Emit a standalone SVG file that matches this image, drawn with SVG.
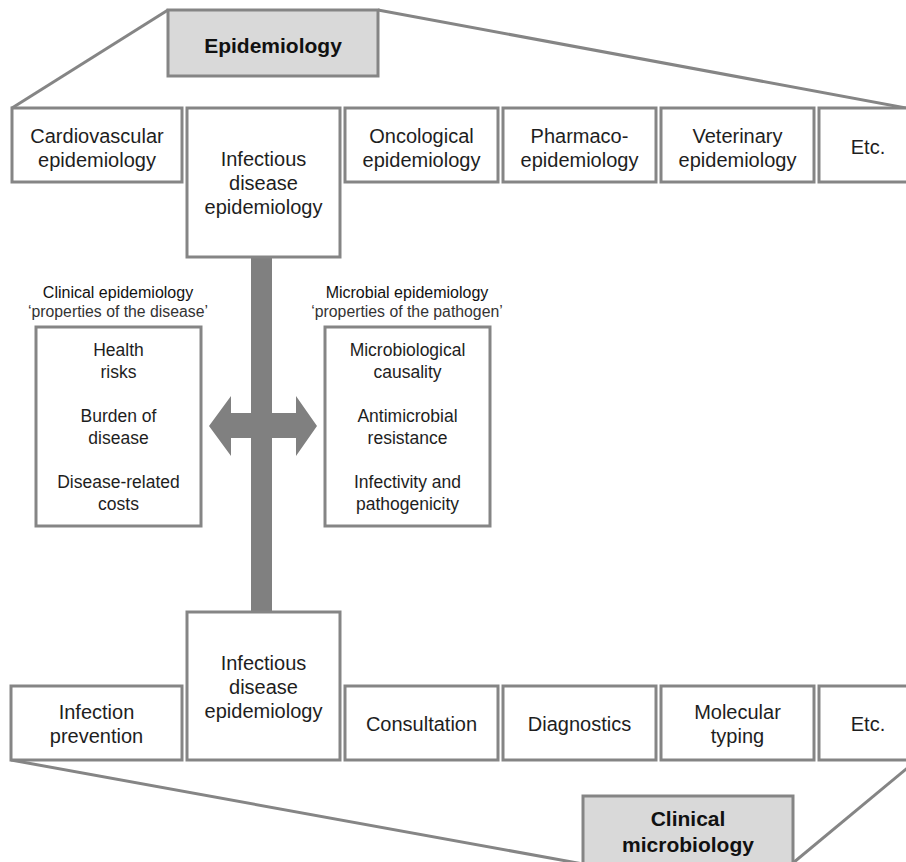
<svg xmlns="http://www.w3.org/2000/svg" width="906" height="862" viewBox="0 0 906 862">
<style>
.box{fill:#ffffff;stroke:#858585;stroke-width:3}
.title{fill:#d9d9d9;stroke:#858585;stroke-width:3}
.ln{fill:none;stroke:#858585;stroke-width:3}
text{font-family:"Liberation Sans",Arial,sans-serif;fill:#1e1e1e;text-anchor:middle}
.t20{font-size:20px}
.t17{font-size:17.5px}
.hd{font-size:16px;fill:#111}
.sub{font-size:15.8px;fill:#333}
.tb{font-size:21px;font-weight:bold;fill:#111}
</style>
<rect width="906" height="862" fill="#ffffff"/>
<g id="connectors">
<polyline class="ln" points="12,108 168,10"/>
<polyline class="ln" points="378,10 917,110"/>
<polyline class="ln" points="11,760 583,864"/>
<polyline class="ln" points="793,863 917,760"/>
<rect x="251" y="257" width="21" height="355" fill="#808080"/>
<polygon fill="#808080" points="209,426 231,396 231,413 296,413 296,396 317,426 296,456 296,438 231,438 231,456"/>
</g>
<g id="epidemiology">
<rect class="title" x="168" y="10" width="210" height="66"/>
<text class="tb" x="273" y="53">Epidemiology</text>
</g>
<g id="cardiovascular">
<rect class="box" x="12" y="108" width="170" height="74"/>
<text class="t20" x="97" y="143">Cardiovascular</text>
<text class="t20" x="97" y="167">epidemiology</text>
</g>
<g id="infectious-top">
<rect class="box" x="187" y="108" width="153" height="149"/>
<text class="t20" x="263.5" y="166">Infectious</text>
<text class="t20" x="263.5" y="190">disease</text>
<text class="t20" x="263.5" y="214">epidemiology</text>
</g>
<g id="oncological">
<rect class="box" x="345" y="108" width="153" height="74"/>
<text class="t20" x="421.5" y="143">Oncological</text>
<text class="t20" x="421.5" y="167">epidemiology</text>
</g>
<g id="pharmaco">
<rect class="box" x="503" y="108" width="153" height="74"/>
<text class="t20" x="579.5" y="143">Pharmaco-</text>
<text class="t20" x="579.5" y="167">epidemiology</text>
</g>
<g id="veterinary">
<rect class="box" x="661" y="108" width="153" height="74"/>
<text class="t20" x="737.5" y="143">Veterinary</text>
<text class="t20" x="737.5" y="167">epidemiology</text>
</g>
<g id="etc-top">
<rect class="box" x="819" y="108" width="98" height="74"/>
<text class="t20" x="868" y="154">Etc.</text>
</g>
<g id="clinical-epidemiology">
<text class="hd" x="118" y="298">Clinical epidemiology</text>
<text class="sub" x="118" y="317">‘properties of the disease’</text>
<rect class="box" x="36" y="327" width="165" height="199"/>
<text class="t17" x="118.5" y="356">Health</text>
<text class="t17" x="118.5" y="378">risks</text>
<text class="t17" x="118.5" y="422">Burden of</text>
<text class="t17" x="118.5" y="444">disease</text>
<text class="t17" x="118.5" y="488">Disease-related</text>
<text class="t17" x="118.5" y="510">costs</text>
</g>
<g id="microbial-epidemiology">
<text class="hd" x="407" y="298">Microbial epidemiology</text>
<text class="sub" x="407" y="317">‘properties of the pathogen’</text>
<rect class="box" x="325" y="327" width="165" height="199"/>
<text class="t17" x="407.5" y="356">Microbiological</text>
<text class="t17" x="407.5" y="378">causality</text>
<text class="t17" x="407.5" y="422">Antimicrobial</text>
<text class="t17" x="407.5" y="444">resistance</text>
<text class="t17" x="407.5" y="488">Infectivity and</text>
<text class="t17" x="407.5" y="510">pathogenicity</text>
</g>
<g id="infection-prevention">
<rect class="box" x="11" y="686" width="171" height="74"/>
<text class="t20" x="96.5" y="719">Infection</text>
<text class="t20" x="96.5" y="743">prevention</text>
</g>
<g id="infectious-bottom">
<rect class="box" x="187" y="612" width="153" height="148"/>
<text class="t20" x="263.5" y="670">Infectious</text>
<text class="t20" x="263.5" y="694">disease</text>
<text class="t20" x="263.5" y="718">epidemiology</text>
</g>
<g id="consultation">
<rect class="box" x="345" y="686" width="153" height="74"/>
<text class="t20" x="421.5" y="731">Consultation</text>
</g>
<g id="diagnostics">
<rect class="box" x="503" y="686" width="153" height="74"/>
<text class="t20" x="579.5" y="731">Diagnostics</text>
</g>
<g id="molecular-typing">
<rect class="box" x="661" y="686" width="153" height="74"/>
<text class="t20" x="737.5" y="719">Molecular</text>
<text class="t20" x="737.5" y="743">typing</text>
</g>
<g id="etc-bottom">
<rect class="box" x="819" y="686" width="98" height="74"/>
<text class="t20" x="868" y="731">Etc.</text>
</g>
<g id="clinical-microbiology">
<rect class="title" x="583" y="796" width="210" height="80"/>
<text class="tb" x="688" y="826">Clinical</text>
<text class="tb" x="688" y="852">microbiology</text>
</g>
</svg>
